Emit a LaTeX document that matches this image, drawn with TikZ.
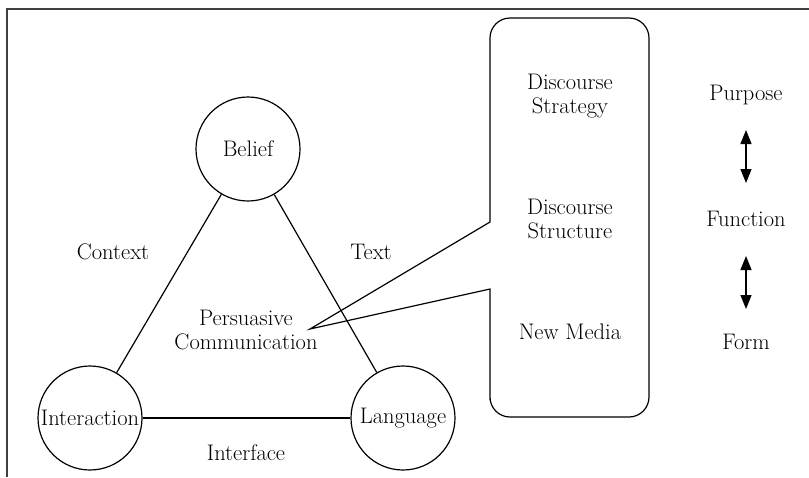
\documentclass[tikz,border=0pt]{standalone}
\usetikzlibrary{arrows.meta}
\begin{document}
\begin{tikzpicture}[x=1pt,y=-1pt,
  lbl/.style={font=\fontsize{22.5}{24.5}\selectfont, align=center, inner sep=0pt},
  ring/.style={circle, draw, line width=1.2pt, minimum size=104pt, inner sep=0pt, font=\fontsize{22.5}{24.5}\selectfont},
  edge/.style={line width=1.2pt},
  dbl/.style={line width=1.3pt, {Triangle[width=11pt,length=14pt]}-{Triangle[width=11pt,length=14pt]}}]
\useasboundingbox (0,0) rectangle (809,477);
% frame
\draw[line width=2pt, black!75] (809,9) -- (7,9) -- (7,477);
% circles
\node[ring] (belief) at (248,149) {Belief};
\node[ring] (interaction) at (90,418) {Interaction};
\node[ring] (language) at (403,418) {Language};
\draw[edge] (belief) -- (interaction);
\draw[edge] (belief) -- (language);
\draw[edge] (interaction) -- (language);
% labels
\node[lbl] (context) at (113,252) {Context};
\node[lbl] (text) at (371,252) {Text};
\node[lbl] (interface) at (246,453) {Interface};
\node[lbl] (pc) at (246,330) {Persuasive\\Communication};
% callout box
\coordinate (tip) at (310,329);
\draw[edge] (490,222) [rounded corners=20pt] -- (490,18) -- (649,18) -- (649,417) -- (490,417) -- (490,380) [sharp corners] -- (490,289) -- (tip) -- cycle;
\node[lbl] (strategy) at (570,96) {Discourse\\Strategy};
\node[lbl] (structure) at (570,219) {Discourse\\Structure};
\node[lbl] (media) at (570,332) {New Media};
% right column
\node[lbl] (purpose) at (746,95) {Purpose};
\node[lbl] (function) at (746,219) {Function};
\node[lbl] (form) at (746,342) {Form};
\coordinate (a1) at (746,130);
\coordinate (a2) at (746,183);
\coordinate (b1) at (746,256);
\coordinate (b2) at (746,309);
\draw[dbl] (a1) -- (a2);
\draw[dbl] (b1) -- (b2);
\end{tikzpicture}
\end{document}
